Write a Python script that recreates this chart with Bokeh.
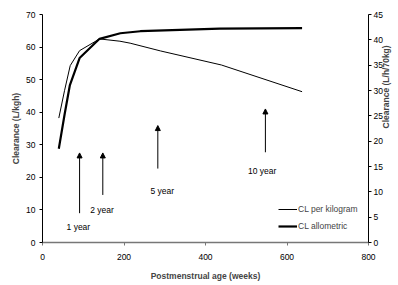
import math
from bokeh.plotting import figure
from bokeh.models import (Range1d, LinearAxis, Legend, LegendItem, Arrow, NormalHead,
                          Label, FixedTicker)
from bokeh.embed import file_html
from bokeh.resources import INLINE

# --- data ---
age_kg = [40, 54, 68, 91, 140, 190, 215, 290, 439, 637]
cl_per_kg = [38.2, 46.6, 54.3, 58.9, 62.5, 61.8, 61.2, 58.8, 54.5, 46.3]

age_allo = [40, 54.5, 67, 91, 140, 191, 240, 435, 637]
cl_allo = [18.5, 25.4, 31.0, 36.4, 40.2, 41.3, 41.7, 42.2, 42.3]

arrow_x = [91, 148, 283, 547]
arrow_y0 = [9.0, 14.6, 22.7, 27.7]
arrow_y1 = [27.5, 27.5, 35.9, 41.0]
year_labels = ["1 year", "2 year", "5 year", "10 year"]
label_x = [88, 146, 294, 539]
label_y = [4.8, 10.0, 15.7, 22.0]

x_ticks = [0, 200, 400, 600, 800]
left_ticks = [0, 10, 20, 30, 40, 50, 60, 70]
right_ticks = [0, 5, 10, 15, 20, 25, 30, 35, 40, 45]

FONT = "Liberation Sans"
FS = "8.5px"

p = figure(frame_width=326, frame_height=228, output_backend="svg", toolbar_location=None,
           x_range=Range1d(0, 800), y_range=Range1d(0, 70),
           min_border_left=42, min_border_right=30, min_border_top=14, min_border_bottom=43)
p.extra_y_ranges = {"right": Range1d(0, 45)}
p.outline_line_color = None
p.xgrid.visible = False
p.ygrid.visible = False
p.background_fill_color = "white"

def style_axis(ax, line_color="black"):
    ax.major_label_text_font = FONT
    ax.major_label_text_font_size = FS
    ax.major_label_text_color = "black"
    ax.axis_label_text_font = FONT
    ax.axis_label_text_font_size = FS
    ax.axis_label_text_font_style = "bold"
    ax.axis_line_color = line_color
    ax.major_tick_line_color = line_color
    ax.minor_tick_line_color = None
    ax.major_tick_in = 0
    ax.major_tick_out = 3

xa = p.xaxis[0]
style_axis(xa, "#777777")
xa.axis_line_width = 1.5
xa.ticker = FixedTicker(ticks=x_ticks)
xa.axis_label = "Postmenstrual age (weeks)"
xa.major_label_standoff = 8
xa.axis_label_standoff = 8

ya = p.yaxis[0]
style_axis(ya)
ya.ticker = FixedTicker(ticks=left_ticks)
ya.axis_label = "Clearance (L/kgh)"
ya.major_label_standoff = 4
ya.axis_label_standoff = 2

ra = LinearAxis(y_range_name="right")
style_axis(ra)
ra.ticker = FixedTicker(ticks=right_ticks)
ra.major_label_standoff = 2
ra.axis_label = "Clearance (L/h/70kg)"
ra.axis_label_standoff = 0
ra.axis_label_orientation = math.pi / 2
p.add_layout(ra, "right")

r1 = p.line(age_kg, cl_per_kg, line_color="black", line_width=1)
r2 = p.line(age_allo, cl_allo, line_color="black", line_width=2.2, y_range_name="right")

for xa_, y0, y1 in zip(arrow_x, arrow_y0, arrow_y1):
    p.add_layout(Arrow(end=NormalHead(size=5, fill_color="black", line_color="black", line_width=1),
                       x_start=xa_, y_start=y0, x_end=xa_, y_end=y1,
                       line_color="black", line_width=1))

for t, lx, ly in zip(year_labels, label_x, label_y):
    p.add_layout(Label(x=lx, y=ly, text=t, text_font=FONT, text_font_size=FS,
                       text_align="center", text_baseline="middle", text_color="black"))

legend = Legend(items=[LegendItem(label="CL per kilogram", renderers=[r1]),
                       LegendItem(label="CL allometric", renderers=[r2])],
                location=(236, 10), padding=0, margin=0, spacing=5,
                glyph_width=19, glyph_height=12, label_height=12, label_standoff=1,
                label_text_font=FONT, label_text_font_size=FS,
                border_line_color=None, background_fill_alpha=0)
p.add_layout(legend, "center")

open("out.html", "w").write(file_html(p, INLINE))
